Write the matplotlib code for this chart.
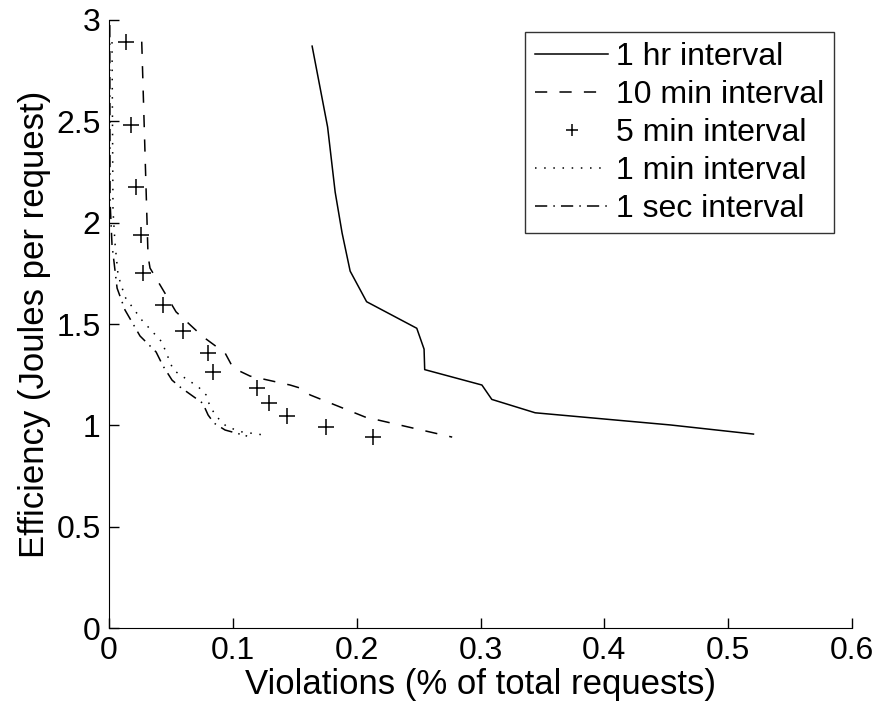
import matplotlib
matplotlib.use("Agg")
import matplotlib.pyplot as plt

plt.rcParams['font.family'] = ['Liberation Sans', 'DejaVu Sans']

# 1 hr interval (solid)
hr_x = [0.164, 0.1765, 0.1826, 0.1882, 0.1947, 0.208, 0.2485, 0.2544, 0.2549,
        0.3011, 0.3091, 0.3441, 0.4532, 0.5204]
hr_y = [2.871, 2.472, 2.151, 1.949, 1.761, 1.610, 1.479, 1.376, 1.275,
        1.199, 1.128, 1.062, 1.002, 0.957]

# 10 min interval (dashed)
m10_x = [0.0264, 0.0315, 0.0331, 0.0541, 0.0759, 0.0937, 0.1002, 0.1139,
         0.1462, 0.1543, 0.1624, 0.2068, 0.2771]
m10_y = [2.893, 1.835, 1.776, 1.560, 1.437, 1.357, 1.283, 1.243,
         1.199, 1.184, 1.150, 1.041, 0.942]

# 5 min interval (markers)
m5_x = [0.0135, 0.0175, 0.0216, 0.0258, 0.0272, 0.0439, 0.0600, 0.0797,
        0.0842, 0.1198, 0.1292, 0.1440, 0.1750, 0.2130]
m5_y = [2.889, 2.481, 2.177, 1.939, 1.750, 1.596, 1.465, 1.355,
        1.261, 1.183, 1.109, 1.046, 0.992, 0.941]

# 1 min interval (dotted)
m1_x = [0.0024, 0.0032, 0.0048, 0.0073, 0.0129, 0.0264, 0.0426, 0.0519,
        0.0614, 0.0721, 0.0784, 0.0816, 0.0870, 0.0951, 0.1072, 0.1254]
m1_y = [2.891, 2.062, 1.899, 1.741, 1.633, 1.520, 1.412, 1.273,
        1.233, 1.190, 1.150, 1.092, 1.042, 0.993, 0.968, 0.952]

# 1 sec interval (dash-dot)
s1_x = [0.0006, 0.0008, 0.0024, 0.0065, 0.0129, 0.0250, 0.0380, 0.0436,
        0.0509, 0.0574, 0.0757, 0.0800, 0.0848, 0.0937, 0.1115]
s1_y = [2.975, 2.111, 1.890, 1.677, 1.569, 1.441, 1.362, 1.293,
        1.223, 1.189, 1.109, 1.051, 1.011, 0.977, 0.947]

fig = plt.figure(figsize=(8.73, 7.09), dpi=100)
ax = fig.add_axes([0.1249, 0.1142, 0.8511, 0.8576])

ax.plot(hr_x, hr_y, color='black', lw=1.1, label='1 hr interval')
ax.plot(m10_x, m10_y, color='black', lw=1.1, dashes=(8, 8), label='10 min interval')
ax.plot(m5_x, m5_y, color='black', ls='none', marker='+', ms=11, mew=1.1,
        label='5 min interval')
ax.plot(m1_x, m1_y, color='black', lw=1.1, dashes=(1, 5), label='1 min interval')
ax.plot(s1_x, s1_y, color='black', lw=1.1, dashes=(8, 4, 1, 4), label='1 sec interval')

ax.set_xlim(0, 0.6)
ax.set_ylim(0, 3)
ax.set_xticks([0, 0.1, 0.2, 0.3, 0.4, 0.5, 0.6])
ax.set_xticklabels(['0', '0.1', '0.2', '0.3', '0.4', '0.5', '0.6'])
ax.set_yticks([0, 0.5, 1, 1.5, 2, 2.5, 3])
ax.set_yticklabels(['0', '0.5', '1', '1.5', '2', '2.5', '3'])

ax.spines['top'].set_visible(False)
ax.spines['right'].set_visible(False)
ax.tick_params(direction='in', length=7, width=1, labelsize=23, pad=6)
ax.set_xlabel('Violations (% of total requests)', fontsize=25, labelpad=1)
ax.set_ylabel('Efficiency (Joules per request)', fontsize=25, labelpad=4)

leg = ax.legend(loc='upper right', bbox_to_anchor=(0.976, 0.98), fontsize=23,
                frameon=True, fancybox=False, edgecolor='black',
                handlelength=2.3, handletextpad=0.25, labelspacing=0.25,
                borderpad=0.3, borderaxespad=0, markerscale=0.8)
leg.get_frame().set_linewidth(1)

fig.savefig('out.png', dpi=100)
